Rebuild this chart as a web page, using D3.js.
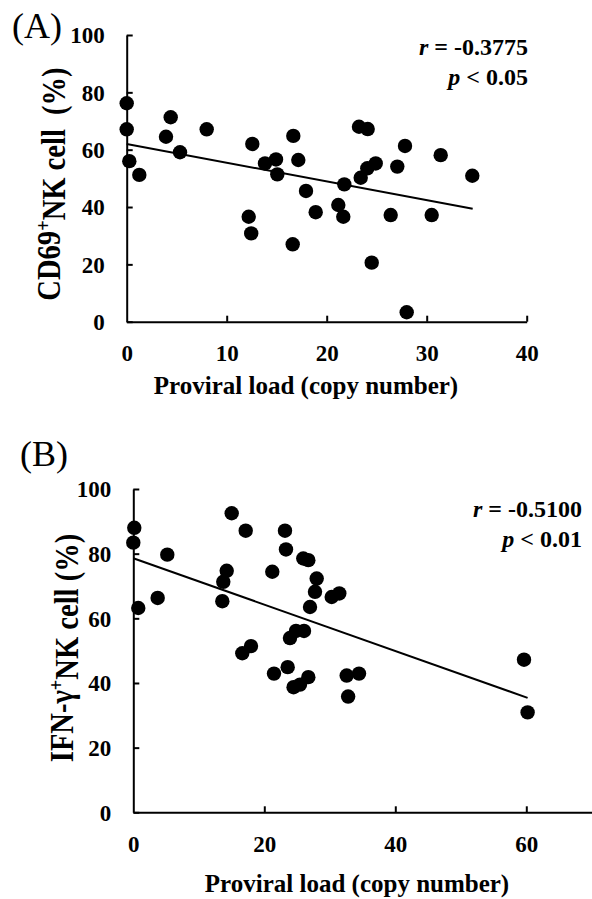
<!DOCTYPE html>
<html>
<head>
<meta charset="utf-8">
<script src="https://cdn.jsdelivr.net/npm/d3@7"></script>
<style>
  body { margin: 0; background: #fff; }
  text { font-family: "Liberation Serif", "Times New Roman", serif; }
</style>
</head>
<body>
<svg id="chart"></svg>
<script>
// Panel A: CD69+ NK cells vs proviral load
const loadA = [0, 0, 0.26, 1.26, 3.93, 4.4, 5.33, 8.0, 12.56, 13.83, 14.93, 15.06, 16.66, 17.16,
  17.93, 18.9, 21.16, 21.66, 21.76, 23.23, 24.1, 23.4, 24.06, 24.9, 27.06, 27.83, 26.4, 30.5,
  31.4, 34.56, 12.2, 12.45, 16.6, 24.5, 28.0];
const cd69 = [76.2, 67.1, 56.0, 51.2, 64.5, 71.3, 59.1, 67.1, 62.0, 55.2, 56.6, 51.4, 64.8, 56.4,
  45.6, 38.2, 40.7, 36.6, 47.9, 68.0, 67.2, 50.2, 53.5, 55.2, 54.1, 61.3, 37.2, 37.2,
  58.1, 50.9, 36.6, 30.8, 27.0, 20.6, 3.3];
const fitA_x = [0, 34.6];
const fitA_y = [62.0, 39.4];

// Panel B: IFN-gamma+ NK cells vs proviral load
const loadB = [0.15, 0, 0.76, 3.72, 5.19, 15.02, 17.16, 14.26, 13.74, 13.59, 16.64, 17.97, 21.22,
  23.16, 23.31, 25.95, 26.72, 28.0, 27.74, 26.98, 30.29, 31.45, 23.92, 24.84, 26.06, 23.57,
  21.48, 24.47, 25.45, 26.72, 32.58, 34.46, 32.8, 59.65, 60.2];
const ifng = [88.0, 83.4, 63.2, 66.3, 79.7, 92.5, 87.1, 74.7, 71.3, 65.3, 49.2, 51.4, 74.4,
  87.1, 81.3, 78.5, 78.0, 72.3, 68.2, 63.5, 66.6, 67.7, 53.9, 56.1, 56.1, 44.9,
  42.9, 38.7, 39.5, 41.8, 42.3, 42.9, 35.8, 47.2, 30.9];
const fitB_x = [0, 60.2];
const fitB_y = [78.6, 35.4];

const ticksY = [0, 20, 40, 60, 80, 100];
const ticksXA = [0, 10, 20, 30, 40];
const ticksXB = [0, 20, 40, 60];

const svg = d3.select("#chart").attr("width", 592).attr("height", 899);

function panel(cfg) {
  const x = d3.scaleLinear().domain(cfg.xDomain).range(cfg.xRange);
  const y = d3.scaleLinear().domain([0, 100]).range(cfg.yRange);

  // y axis, ticks pointing inward
  const gy = svg.append("g")
    .attr("transform", `translate(${cfg.xRange[0]},0)`)
    .call(d3.axisLeft(y).tickValues(ticksY).tickSize(-6).tickSizeOuter(0).tickPadding(22));

  // x axis
  const gx = svg.append("g")
    .attr("transform", `translate(0,${cfg.yRange[0]})`)
    .call(d3.axisBottom(x).tickValues(cfg.xTicks).tickSize(-6).tickSizeOuter(0).tickPadding(23));

  [gx, gy].forEach((g) => {
    g.attr("font-family", null).attr("font-size", null);
    g.select(".domain").attr("stroke", "#000").attr("stroke-width", 2);
    g.selectAll(".tick line").attr("stroke", "#000").attr("stroke-width", 2);
    g.selectAll(".tick text")
      .attr("fill", "#000")
      .style("font-size", "23px")
      .style("font-weight", "bold");
  });
  gy.selectAll(".tick text").attr("dy", "0.34em");
  gx.selectAll(".tick").filter((d) => d === 0).select("line").remove();

  // regression line
  svg.append("line")
    .attr("x1", x(cfg.fitX[0])).attr("y1", y(cfg.fitY[0]))
    .attr("x2", x(cfg.fitX[1])).attr("y2", y(cfg.fitY[1]))
    .attr("stroke", "#000").attr("stroke-width", 2);

  // points
  svg.append("g")
    .selectAll("circle")
    .data(cfg.xs.map((v, i) => [v, cfg.ys[i]]))
    .join("circle")
    .attr("cx", (d) => x(d[0]))
    .attr("cy", (d) => y(d[1]))
    .attr("r", 7.2)
    .attr("fill", "#000");

  // axis titles
  svg.append("text")
    .attr("x", cfg.xTitlePos[0]).attr("y", cfg.xTitlePos[1])
    .attr("text-anchor", "middle")
    .style("font-size", "25px").style("font-weight", "bold")
    .text("Proviral load (copy number)");

  // y title: glyphs a little taller than the text run is long, as in the original
  const yt = svg.append("text")
    .attr("transform", `translate(${cfg.yTitlePos[0]},${cfg.yTitlePos[1]}) rotate(-90) scale(0.84,1)`)
    .attr("text-anchor", "middle")
    .style("font-size", "34px").style("font-weight", "bold")
    .style("white-space", "pre");
  yt.append("tspan").text(cfg.yTitle[0]);
  yt.append("tspan").attr("dy", "-0.45em").style("font-size", "22px").text("+");
  yt.append("tspan").attr("dy", "0.45em").text(cfg.yTitle[1]);

  // statistics
  const s1 = svg.append("text")
    .attr("x", cfg.statPos[0]).attr("y", cfg.statPos[1])
    .attr("text-anchor", "end")
    .style("font-size", "24px").style("font-weight", "bold");
  s1.append("tspan").style("font-style", "italic").text("r");
  s1.append("tspan").text(" = " + cfg.rText);
  const s2 = svg.append("text")
    .attr("x", cfg.statPos[0]).attr("y", cfg.statPos[1] + 30)
    .attr("text-anchor", "end")
    .style("font-size", "24px").style("font-weight", "bold");
  s2.append("tspan").style("font-style", "italic").text("p");
  s2.append("tspan").text(" < " + cfg.pText);

  // panel letter
  svg.append("text")
    .attr("x", cfg.letterPos[0]).attr("y", cfg.letterPos[1])
    .style("font-size", "36px")
    .text(cfg.letter);
}

panel({
  xs: loadA, ys: cd69, fitX: fitA_x, fitY: fitA_y,
  xDomain: [0, 40], xRange: [126.7, 526.7], yRange: [321.7, 35],
  xTicks: ticksXA,
  xTitlePos: [306, 394], yTitlePos: [60, 184],
  yTitle: ["CD69", "NK cell  (%)"],
  statPos: [528, 55], rText: "-0.3775", pText: "0.05",
  letter: "(A)", letterPos: [12, 38]
});

panel({
  xs: loadB, ys: ifng, fitX: fitB_x, fitY: fitB_y,
  xDomain: [0, 70], xRange: [133.3, 591.8], yRange: [812.3, 489],
  xTicks: ticksXB,
  xTitlePos: [357, 892], yTitlePos: [73, 648],
  yTitle: ["IFN-\u03b3", "NK cell (%)"],
  statPos: [582, 517], rText: "-0.5100", pText: "0.01",
  letter: "(B)", letterPos: [20, 466]
});
</script>
</body>
</html>
